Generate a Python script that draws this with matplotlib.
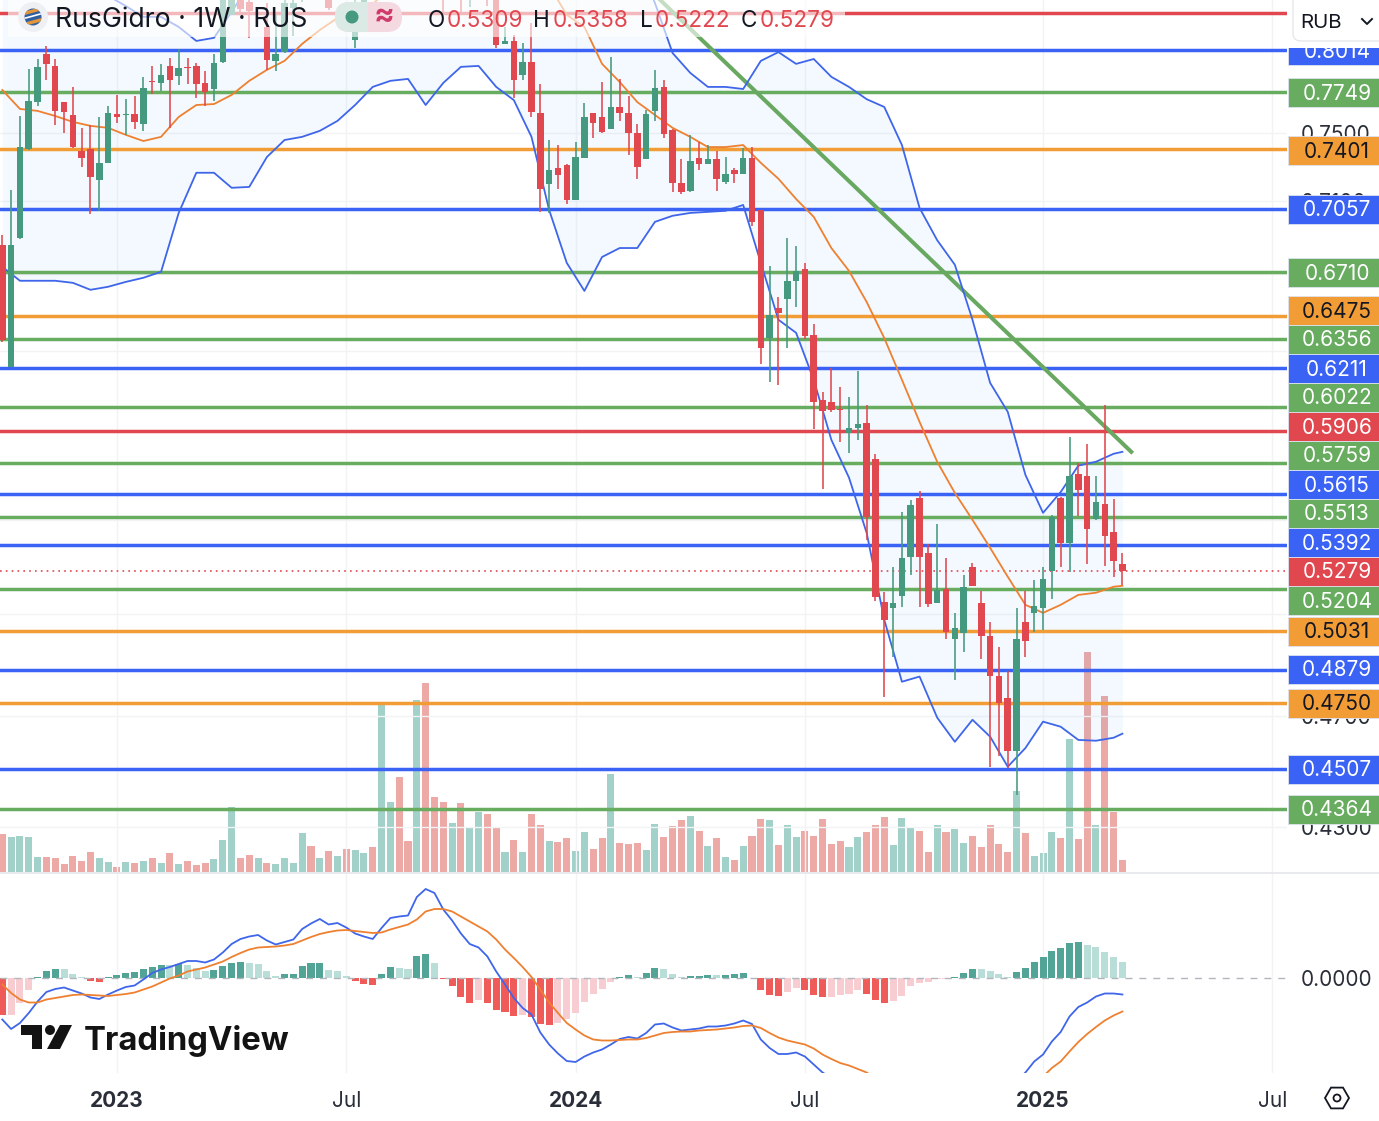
import numpy as np
import matplotlib
matplotlib.use('Agg')
import matplotlib.pyplot as plt
from matplotlib.patches import Rectangle, Circle, FancyBboxPatch, Polygon, RegularPolygon

plt.rcParams['font.family'] = ['Inter', 'DejaVu Sans']

# weekly candles, oldest first
opens = [.6856,.6219,.6895,.7403,.7687,.7989,.7913,.7687,.7608,.7391,
         .7403,.7223,.7322,.7614,.7608,.7614,.7554,.7819,.7806,.7913,
         .7850,.7907,.7913,.7806,.7768,.7938,.8243,.8375,.8329,.8400,
         .8164,.7945,.8001,.8289,.8400,.8620,.8480,.8430,.8350,.8460,
         .8079,.8250,.8700,.8600,.8900,.9300,.9050,.8850,.9800,.9300,
         .8900,.8500,.8700,.8400,.8550,.8700,.8450,.8054,.8073,.7857,
         .7938,.7620,.7200,.7293,.7310,.7107,.7351,.7620,.7596,.7524,
         .7657,.7620,.7500,.7345,.7633,.7781,.7518,.7206,.7159,.7351,
         .7316,.7345,.7212,.7281,.7258,.7351,.7051,.6365,.6519,.6565,
         .6662,.6726,.6380,.6055,.6046,.6012,.5899,.5922,.5946,.5777,
         .5151,.5127,.5176,.5340,.5598,.5357,.5147,.5205,.5001,.5026,
         .5298,.5147,.5014,.4856,.4770,.4571,.5070,.5106,.5127,.5281,
         .5598,.5401,.5708,.5698,.5506,.5571,.5449,.5309]
highs = [.6912,.7165,.7602,.7894,.7957,.8040,.7957,.7687,.7781,.7530,
         .7548,.7596,.7663,.7731,.7705,.7724,.7844,.7913,.7926,.7964,
         .8020,.7964,.7932,.7882,.7989,.8408,.8460,.8450,.8355,.8560,
         .8322,.8243,.8375,.8360,.8560,.8700,.8700,.8500,.8520,.8520,
         .8400,.8700,.8800,.9000,.9300,.9450,.9200,.9900,1.0200,.9500,
         .9000,.8800,.8900,.8700,.8800,.8850,.8550,.8164,.8112,.8060,
         .8190,.7800,.7457,.7427,.7316,.7445,.7681,.7620,.7812,.7970,
         .7831,.7724,.7554,.7639,.7888,.7825,.7524,.7345,.7488,.7445,
         .7427,.7391,.7356,.7293,.7409,.7415,.7051,.6742,.6576,.6895,
         .6850,.6758,.6437,.6095,.6214,.6119,.6070,.6199,.6031,.5800,
         .5193,.5298,.5536,.5589,.5630,.5396,.5484,.5336,.5106,.5264,
         .5315,.5197,.5070,.4969,.4875,.5127,.5197,.5243,.5298,.5523,
         .5603,.5880,.5758,.5846,.5698,.6031,.5593,.5358]
lows = [.6344,.6219,.6889,.7397,.7663,.7825,.7548,.7500,.7409,.7298,
        .7029,.7046,.7322,.7560,.7488,.7524,.7512,.7737,.7756,.7530,
        .7794,.7800,.7712,.7663,.7693,.7932,.8240,.8243,.8093,.8350,
        .7888,.7882,.7995,.8106,.8329,.8420,.8420,.8276,.8350,.8370,
        .8027,.8250,.8550,.8560,.8800,.9000,.8800,.8750,.9200,.9000,
        .8262,.8400,.8262,.8296,.8450,.8302,.8027,.8054,.7712,.7825,
        .7596,.7040,.7034,.7171,.7085,.7107,.7351,.7471,.7500,.7524,
        .7572,.7368,.7229,.7345,.7572,.7471,.7153,.7142,.7153,.7281,
        .7316,.7159,.7200,.7206,.7258,.6962,.6234,.6144,.6129,.6313,
        .6524,.6360,.5917,.5639,.5998,.5856,.5804,.5865,.5414,.5155,
        .4774,.4930,.5131,.5264,.5131,.5131,.5147,.5001,.4840,.4949,
        .5218,.4922,.4514,.4553,.4510,.4413,.4930,.5030,.5038,.5163,
        .5298,.5277,.5519,.5311,.5501,.5302,.5256,.5222]
closes = [.6354,.6856,.7415,.7693,.7907,.7926,.7633,.7627,.7415,.7351,
          .7240,.7322,.7620,.7596,.7614,.7566,.7775,.7812,.7857,.7825,
          .7901,.7901,.7800,.7749,.7932,.8362,.8395,.8283,.8269,.8500,
          .7951,.7989,.8322,.8322,.8520,.8480,.8640,.8289,.8460,.8390,
          .8309,.8580,.8600,.8900,.9200,.9050,.8850,.9700,.9300,.9050,
          .8500,.8700,.8450,.8600,.8700,.8450,.8047,.8073,.7825,.7938,
          .7627,.7171,.7281,.7252,.7107,.7356,.7596,.7560,.7506,.7657,
          .7620,.7500,.7298,.7614,.7775,.7494,.7206,.7153,.7333,.7316,
          .7345,.7229,.7258,.7258,.7351,.6984,.6313,.6483,.6493,.6662,
          .6715,.6375,.6046,.6003,.6008,.6008,.5922,.5941,.5515,.5172,
          .5078,.5147,.5336,.5567,.5340,.5143,.5201,.5030,.5046,.5214,
          .5218,.5014,.4856,.4751,.4571,.5001,.4993,.5135,.5248,.5515,
          .5401,.5698,.5635,.5462,.5580,.5431,.5324,.5279]
volumes = [38,35,36,35,15,15,14,8,16,11,
           20,14,10,5,10,9,11,14,9,19,
           8,11,7,9,13,32,65,14,17,14,
           9,8,14,9,39,26,14,21,16,23,
           22,19,25,168,70,95,31,172,189,75,
           70,49,69,44,60,58,45,20,32,20,
           58,47,31,30,34,21,40,23,34,98,
           29,28,29,22,48,35,46,52,56,41,
           26,34,15,12,26,36,53,52,27,47,
           35,41,36,53,28,31,25,35,40,47,
           55,27,54,45,41,20,47,40,43,29,
           36,25,47,28,20,81,39,16,19,40,
           34,133,33,220,47,176,60,12]

# bollinger bands, read every second week
bb_weeks = list(range(0, 128, 2)) + [127]
bb_upper = [.9000,.9000,.8950,.8900,.8800,.8500,.8370,.8302,.8230,.8230,
            .8164,.8073,.8093,.8263,.8445,.8800,.9000,.9200,.9500,.9800,
            1.000,1.020,1.030,1.040,1.060,1.070,1.070,1.060,1.050,1.030,
            1.000,.9800,.9600,.9500,.9300,.9000,.8600,.8322,.7995,.7869,
            .7781,.7781,.7768,.7945,.8001,.7926,.7957,.7844,.7781,.7705,
            .7657,.7427,.7062,.6882,.6748,.6457,.6139,.5998,.5703,.5532,
            .5625,.5745,.5763,.5800,.5809]
bb_basis = [.7762,.7645,.7633,.7602,.7566,.7542,.7530,.7488,.7451,.7476,
            .7596,.7669,.7675,.7731,.7819,.7888,.7945,.8054,.8144,.8223,
            .8263,.8316,.8420,.8500,.8620,.8700,.8750,.8780,.8770,.8700,
            .8600,.8440,.8243,.8164,.7926,.7812,.7687,.7608,.7530,.7476,
            .7415,.7415,.7427,.7322,.7229,.7113,.7012,.6839,.6715,.6550,
            .6363,.6154,.5950,.5763,.5621,.5501,.5379,.5256,.5139,.5106,
            .5139,.5180,.5189,.5214,.5218]
bb_lower = [.6737,.6662,.6662,.6662,.6651,.6614,.6630,.6656,.6678,.6710,
            .7034,.7264,.7264,.7177,.7182,.7356,.7457,.7476,.7512,.7572,
            .7669,.7781,.7819,.7831,.7669,.7806,.7907,.7913,.7781,.7699,
            .7476,.7051,.6758,.6608,.6790,.6839,.6839,.6984,.7018,.7034,
            .7040,.7046,.7079,.6758,.6457,.6390,.6154,.5865,.5690,.5444,
            .5078,.4832,.4852,.4695,.4605,.4687,.4624,.4514,.4582,.4680,
            .4661,.4612,.4609,.4620,.4635]

# macd pane, in units of 0.001
macd_line = [-8.3,-10.2,-9.0,-7.0,-4.7,-2.8,-2.2,-1.9,-2.5,-3.1,
             -3.9,-4.2,-3.3,-2.5,-1.8,-1.5,-0.3,1.0,1.7,2.2,
             2.8,3.4,3.4,3.1,3.7,5.1,6.8,7.8,8.3,8.6,
             7.5,6.7,7.2,7.7,9.8,10.9,11.8,10.7,11.0,10.1,
             8.9,8.3,7.8,10.0,12.0,12.3,12.5,16.2,17.8,17.0,
             13.7,11.5,8.9,6.8,6.1,4.3,1.3,-1.3,-4.0,-6.0,
             -7.3,-10.9,-13.3,-15.1,-16.6,-16.8,-15.7,-14.9,-14.3,-13.3,
             -12.2,-11.8,-12.1,-11.0,-9.3,-9.1,-9.9,-10.5,-10.3,-10.1,
             -9.7,-9.7,-9.5,-9.1,-8.5,-9.2,-12.3,-14.0,-15.2,-15.2,
             -14.9,-15.7,-17.3,-18.9,-20.0,-20.4,-20.7,-20.6,-22.1,-24.4,
             -26.5,-27.4,-27.5,-26.2,-26.0,-26.0,-25.4,-25.4,-24.8,-23.4,
             -22.1,-21.7,-21.8,-22.1,-22.4,-20.7,-18.9,-16.7,-15.3,-12.7,
             -10.8,-7.7,-5.8,-4.9,-3.7,-3.1,-3.1,-3.3]
macd_signal = [-1.3,-3.0,-4.3,-4.9,-4.9,-4.3,-4.0,-3.7,-3.4,-3.3,
               -3.4,-3.5,-3.6,-3.4,-3.2,-2.9,-2.3,-1.7,-0.9,-0.1,
               0.5,1.3,1.7,2.1,2.7,3.3,4.2,5.0,5.7,6.1,
               6.2,6.3,6.5,6.8,7.5,8.2,8.8,9.2,9.5,9.6,
               9.4,9.2,9.0,9.1,9.7,10.2,10.7,11.7,13.3,13.8,
               13.8,13.3,12.3,11.3,10.3,9.3,7.7,5.7,4.0,2.2,
               0.2,-2.3,-4.9,-7.0,-9.0,-10.3,-11.5,-12.3,-12.5,-12.5,
               -12.4,-12.3,-12.3,-12.0,-11.5,-11.0,-10.8,-10.7,-10.7,-10.5,
               -10.4,-10.3,-10.1,-9.9,-9.6,-9.5,-10.0,-11.0,-11.9,-12.5,
               -12.9,-13.3,-14.1,-15.3,-16.2,-17.0,-17.5,-18.2,-18.9,-20.0,
               -21.5,-22.8,-23.9,-24.6,-25.0,-25.2,-25.2,-25.2,-25.0,-24.4,
               -23.9,-23.5,-23.2,-22.9,-22.6,-21.9,-21.0,-20.3,-19.7,-18.0,
               -16.7,-14.7,-12.8,-11.2,-9.8,-8.5,-7.5,-6.7]
macd_hist = [-7.4,-7.4,-5.0,-2.4,0.2,1.4,1.8,1.8,0.8,0.2,
             -0.6,-0.8,0.2,0.6,1.0,1.2,1.8,2.2,2.6,2.6,
             2.8,2.6,2.0,1.5,1.6,2.4,3.1,3.2,3.0,2.8,
             1.4,0.4,0.8,0.9,2.4,3.0,3.1,1.6,1.4,0.4,
             -0.6,-1.2,-1.4,0.8,2.2,2.0,1.8,4.4,4.8,3.0,
             -0.2,-1.6,-3.8,-5.0,-4.4,-5.0,-6.4,-6.8,-7.6,-7.4,
             -7.8,-9.2,-9.3,-9.0,-8.2,-7.0,-4.8,-3.2,-2.2,-0.8,
             0.2,0.6,0.2,1.0,2.0,1.8,0.8,0.2,0.4,0.5,
             0.7,0.6,0.7,0.76,1.0,0.0,-2.4,-3.4,-3.6,-2.8,
             -2.0,-2.4,-3.4,-3.8,-3.8,-3.4,-3.2,-2.4,-3.2,-4.4,
             -5.0,-4.6,-3.6,-1.6,-1.0,-0.8,-0.2,-0.2,0.2,1.0,
             1.8,1.8,1.4,0.8,0.2,1.2,2.0,3.2,4.2,5.4,
             6.0,7.0,7.2,6.6,6.2,5.2,4.2,3.2]

# drawn support / resistance levels
level_values = [.8255,.8014,.7749,.7401,.7057,.6710,.6475,.6356,.6211,.6022,.5906,
                .5759,.5615,.5513,.5392,.5204,.5031,.4879,.4750,.4507,.4364]
level_kinds = ['r','b','g','o','b','g','o','g','b','g','r',
               'g','b','g','b','g','o','b','o','b','g']
# where the price scale stacks each tag, axes pixels (tags get pushed apart)
level_tag_px = [None,50,92,150,209,272,310,339,368,397,426,
                455,484,513,542,600,631,669,703,769,809]
last_close = closes[-1]
last_tag_px = 571
trend_weeks = [74.6, 128.0]
trend_prices = [.8342, .5809]
price_ticks = [.43,.47,.51,.55,.59,.63,.67,.71,.75]
# the middle ones sit fully behind the level tags
price_tick_labels = ['0.4300','0.4700','','','','','','0.7100','0.7500']
tick_weeks = [13,39,65,91,118,144]
tick_labels = ['2023','Jul','2024','Jul','2025','Jul']
tick_bold = [True,False,True,False,True,False]

RED = '#E0474F'
GREEN = '#45997F'
kind_col = {'r':RED,'b':'#3A62F4','g':'#68AC60','o':'#F29C36'}
GRID = '#F2F3F5'
TXT = '#2A2E39'

W, H = 1379, 1121
x0, x1 = -0.26, 145.66
fig = plt.figure(figsize=(W/100, H/100), dpi=100, facecolor='white')
ax_vol = fig.add_axes([0, 1-872/H, 1287/W, 872/H], zorder=0)
ax = fig.add_axes([0, 1-872/H, 1287/W, 872/H], zorder=1, facecolor='none')
ax_m = fig.add_axes([0, 1-1073/H, 1287/W, 200/H], zorder=1)
ov = fig.add_axes([0, 0, 1, 1], zorder=5, facecolor='none')

weeks = np.arange(len(closes))
is_up = np.array(closes) >= np.array(opens)

# volume
ax_vol.bar(weeks, volumes, 0.8, color=np.where(is_up, '#A1D1C9', '#ECA9A6'))
ax_vol.set_xlim(x0, x1)
ax_vol.set_ylim(0, 872)
ax_vol.axis('off')

# price pane
ax.set_yscale('log')
ax.fill_between(bb_weeks, bb_lower, bb_upper, color='#2196F3', alpha=0.05, lw=0, zorder=1)
for v, k in zip(level_values, level_kinds):
    ax.axhline(v, color=kind_col[k], lw=2.5, zorder=2)
ax.plot(trend_weeks, trend_prices, color='#68A860', lw=2.9, zorder=2)
ax.axhline(last_close, color=RED, lw=1.2, ls=(0, (1, 2.5)), zorder=2)
ax.plot(bb_weeks, bb_upper, color='#3F66EA', lw=1.3, zorder=3)
ax.plot(bb_weeks, bb_lower, color='#3F66EA', lw=1.3, zorder=3)
ax.plot(bb_weeks, bb_basis, color='#EE8030', lw=1.3, zorder=3)
cols = np.where(is_up, GREEN, RED)
ax.vlines(weeks, lows, highs, colors=cols, lw=1.15, zorder=4)
ax.bar(weeks, np.abs(np.array(closes)-np.array(opens)), 0.74,
       bottom=np.minimum(opens, closes), color=cols, zorder=5)
ax.set_xlim(x0, x1)
ax.set_ylim(.4149, .8342)
ax.minorticks_off()
ax.set_yticks(price_ticks)
ax.set_yticklabels(price_tick_labels)
ax.yaxis.tick_right()
ax.tick_params(axis='y', length=0, pad=10, labelsize=15, labelcolor=TXT)
ax.tick_params(axis='y', which='minor', length=0, labelright=False)
ax.set_xticks(tick_weeks)
ax.tick_params(axis='x', length=0, labelbottom=False)
ax.grid(True, color=GRID, lw=1, zorder=0)
ax.set_axisbelow(True)
for s in ax.spines.values():
    s.set_visible(False)

# macd pane
hist_cols = []
for i, h in enumerate(macd_hist):
    prev = macd_hist[i-1] if i else h - 1 if h > 0 else h + 1
    if h >= 0:
        hist_cols.append('#52A596' if h > prev else '#B9DDD7')
    else:
        hist_cols.append('#EF5B58' if h < prev else '#F8CDD2')
ax_m.bar(weeks, macd_hist, 0.8, color=hist_cols, zorder=2)
ax_m.axhline(0, color='#B2B5BE', lw=1, ls=(0, (5, 5)), zorder=3)
ax_m.plot(weeks, macd_line, color='#3F66EA', lw=1.3, zorder=4)
ax_m.plot(weeks, macd_signal, color='#EE8030', lw=1.3, zorder=4)
ax_m.set_xlim(x0, x1)
ax_m.set_ylim(-19, 21)
ax_m.set_yticks([0])
ax_m.set_yticklabels(['0.0000'])
ax_m.yaxis.tick_right()
ax_m.tick_params(axis='y', length=0, pad=10, labelsize=15, labelcolor=TXT)
ax_m.set_xticks(tick_weeks)
ax_m.set_xticklabels(tick_labels)
ax_m.tick_params(axis='x', length=0, pad=13, labelsize=15, labelcolor=TXT)
for lab, b in zip(ax_m.get_xticklabels(), tick_bold):
    lab.set_fontweight('bold' if b else 'normal')
ax_m.grid(True, axis='x', color=GRID, lw=1, zorder=0)
ax_m.set_axisbelow(True)
for s in ax_m.spines.values():
    s.set_visible(False)

# chrome on top, in pixels
ov.set_xlim(0, W)
ov.set_ylim(H, 0)
ov.axis('off')
ov.plot([0, W], [873, 873], color='#E4E6EB', lw=1.2, zorder=1)


def tag(cy, text, color, txt_col):
    ov.add_patch(Rectangle((1288, cy-14.5), 91, 29, fc=color, ec='#DDE3F0', lw=0.6, zorder=2))
    ov.text(1337, cy+1.5, text, color=txt_col, fontsize=15, ha='center', va='center', zorder=3)


for v, k, py in zip(level_values, level_kinds, level_tag_px):
    if py is not None:
        tag(py, '%.4f' % v, kind_col[k], '#131722' if k == 'o' else 'white')
tag(last_tag_px, '%.4f' % last_close, RED, 'white')

# currency button
ov.add_patch(Rectangle((1287, -1), 93, 49, fc='white', ec='none', zorder=4))
ov.add_patch(FancyBboxPatch((1296, -12), 100, 50, boxstyle='round,pad=3,rounding_size=8',
                            fc='white', ec='#E6E7EA', lw=1, zorder=5))
ov.text(1300, 22.5, 'RUB', color='#131722', fontsize=14.8, va='center', zorder=6)
ov.plot([1362, 1367, 1372], [19, 24, 19], color='#131722', lw=1.4, zorder=6)

# header
ov.add_patch(Rectangle((8, -1), 837, 38, fc='white', ec='none', alpha=0.62, zorder=1))
ov.add_patch(Circle((33, 17), 15, fc='#EFF0F3', ec='none', zorder=2))
badge = Circle((33, 17), 8.5, fc='#2F5FA0', ec='none', zorder=3)
ov.add_patch(badge)
for dy, c, lw in [(-6, '#E3953A', 2.4), (-1, 'white', 1.2), (5, '#E3953A', 2.4)]:
    ln, = ov.plot([22, 44], [17+dy+3, 17+dy-3], color=c, lw=lw, zorder=4)
    ln.set_clip_path(badge)
ov.text(55, 20, 'RusGidro · 1W · RUS', color='#131722', fontsize=19.2, va='center', zorder=4)
pill = FancyBboxPatch((350, 17), 37, 0.01, boxstyle='round,pad=15', fc='#F4D9E1', ec='none', zorder=2)
ov.add_patch(pill)
left = Rectangle((330, 0), 38, 34, fc='#DCEAE5', ec='none', zorder=3)
ov.add_patch(left)
left.set_clip_path(pill)
ov.add_patch(Circle((352, 17), 6.5, fc=GREEN, ec='none', zorder=4))
ov.text(384, 16, '≈', color='#CF3B6B', fontsize=22, fontweight='bold', ha='center', va='center', zorder=4)
for px, letter, pv, val in [(428, 'O', 447, '0.5309'), (533, 'H', 553, '0.5358'),
                            (640, 'L', 655, '0.5222'), (741, 'C', 760, '0.5279')]:
    ov.text(px, 21, letter, color='#131722', fontsize=16.2, va='center', zorder=4)
    ov.text(pv, 21, val, color=RED, fontsize=16.2, va='center', zorder=4)

# watermark
ov.add_patch(Polygon([(21, 1025), (42, 1025), (42, 1049), (32, 1049), (32, 1035), (21, 1035)],
                     fc='#131313', ec='none', zorder=4))
ov.add_patch(Circle((50, 1030), 5, fc='#131313', ec='none', zorder=4))
ov.add_patch(Polygon([(60, 1025), (72, 1025), (60, 1049), (47, 1049)], fc='#131313', ec='none', zorder=4))
ov.text(84, 1041, 'TradingView', color='#131313', fontsize=23.7, fontweight='bold', va='center', zorder=4)

# settings icon
ov.add_patch(RegularPolygon((1337, 1098), 6, radius=12, orientation=np.pi/6, fc='none', ec='#131722', lw=1.3))
ov.add_patch(Circle((1337, 1098), 3.5, fc='none', ec='#131722', lw=1.3))

fig.savefig('out.png', dpi=100)
